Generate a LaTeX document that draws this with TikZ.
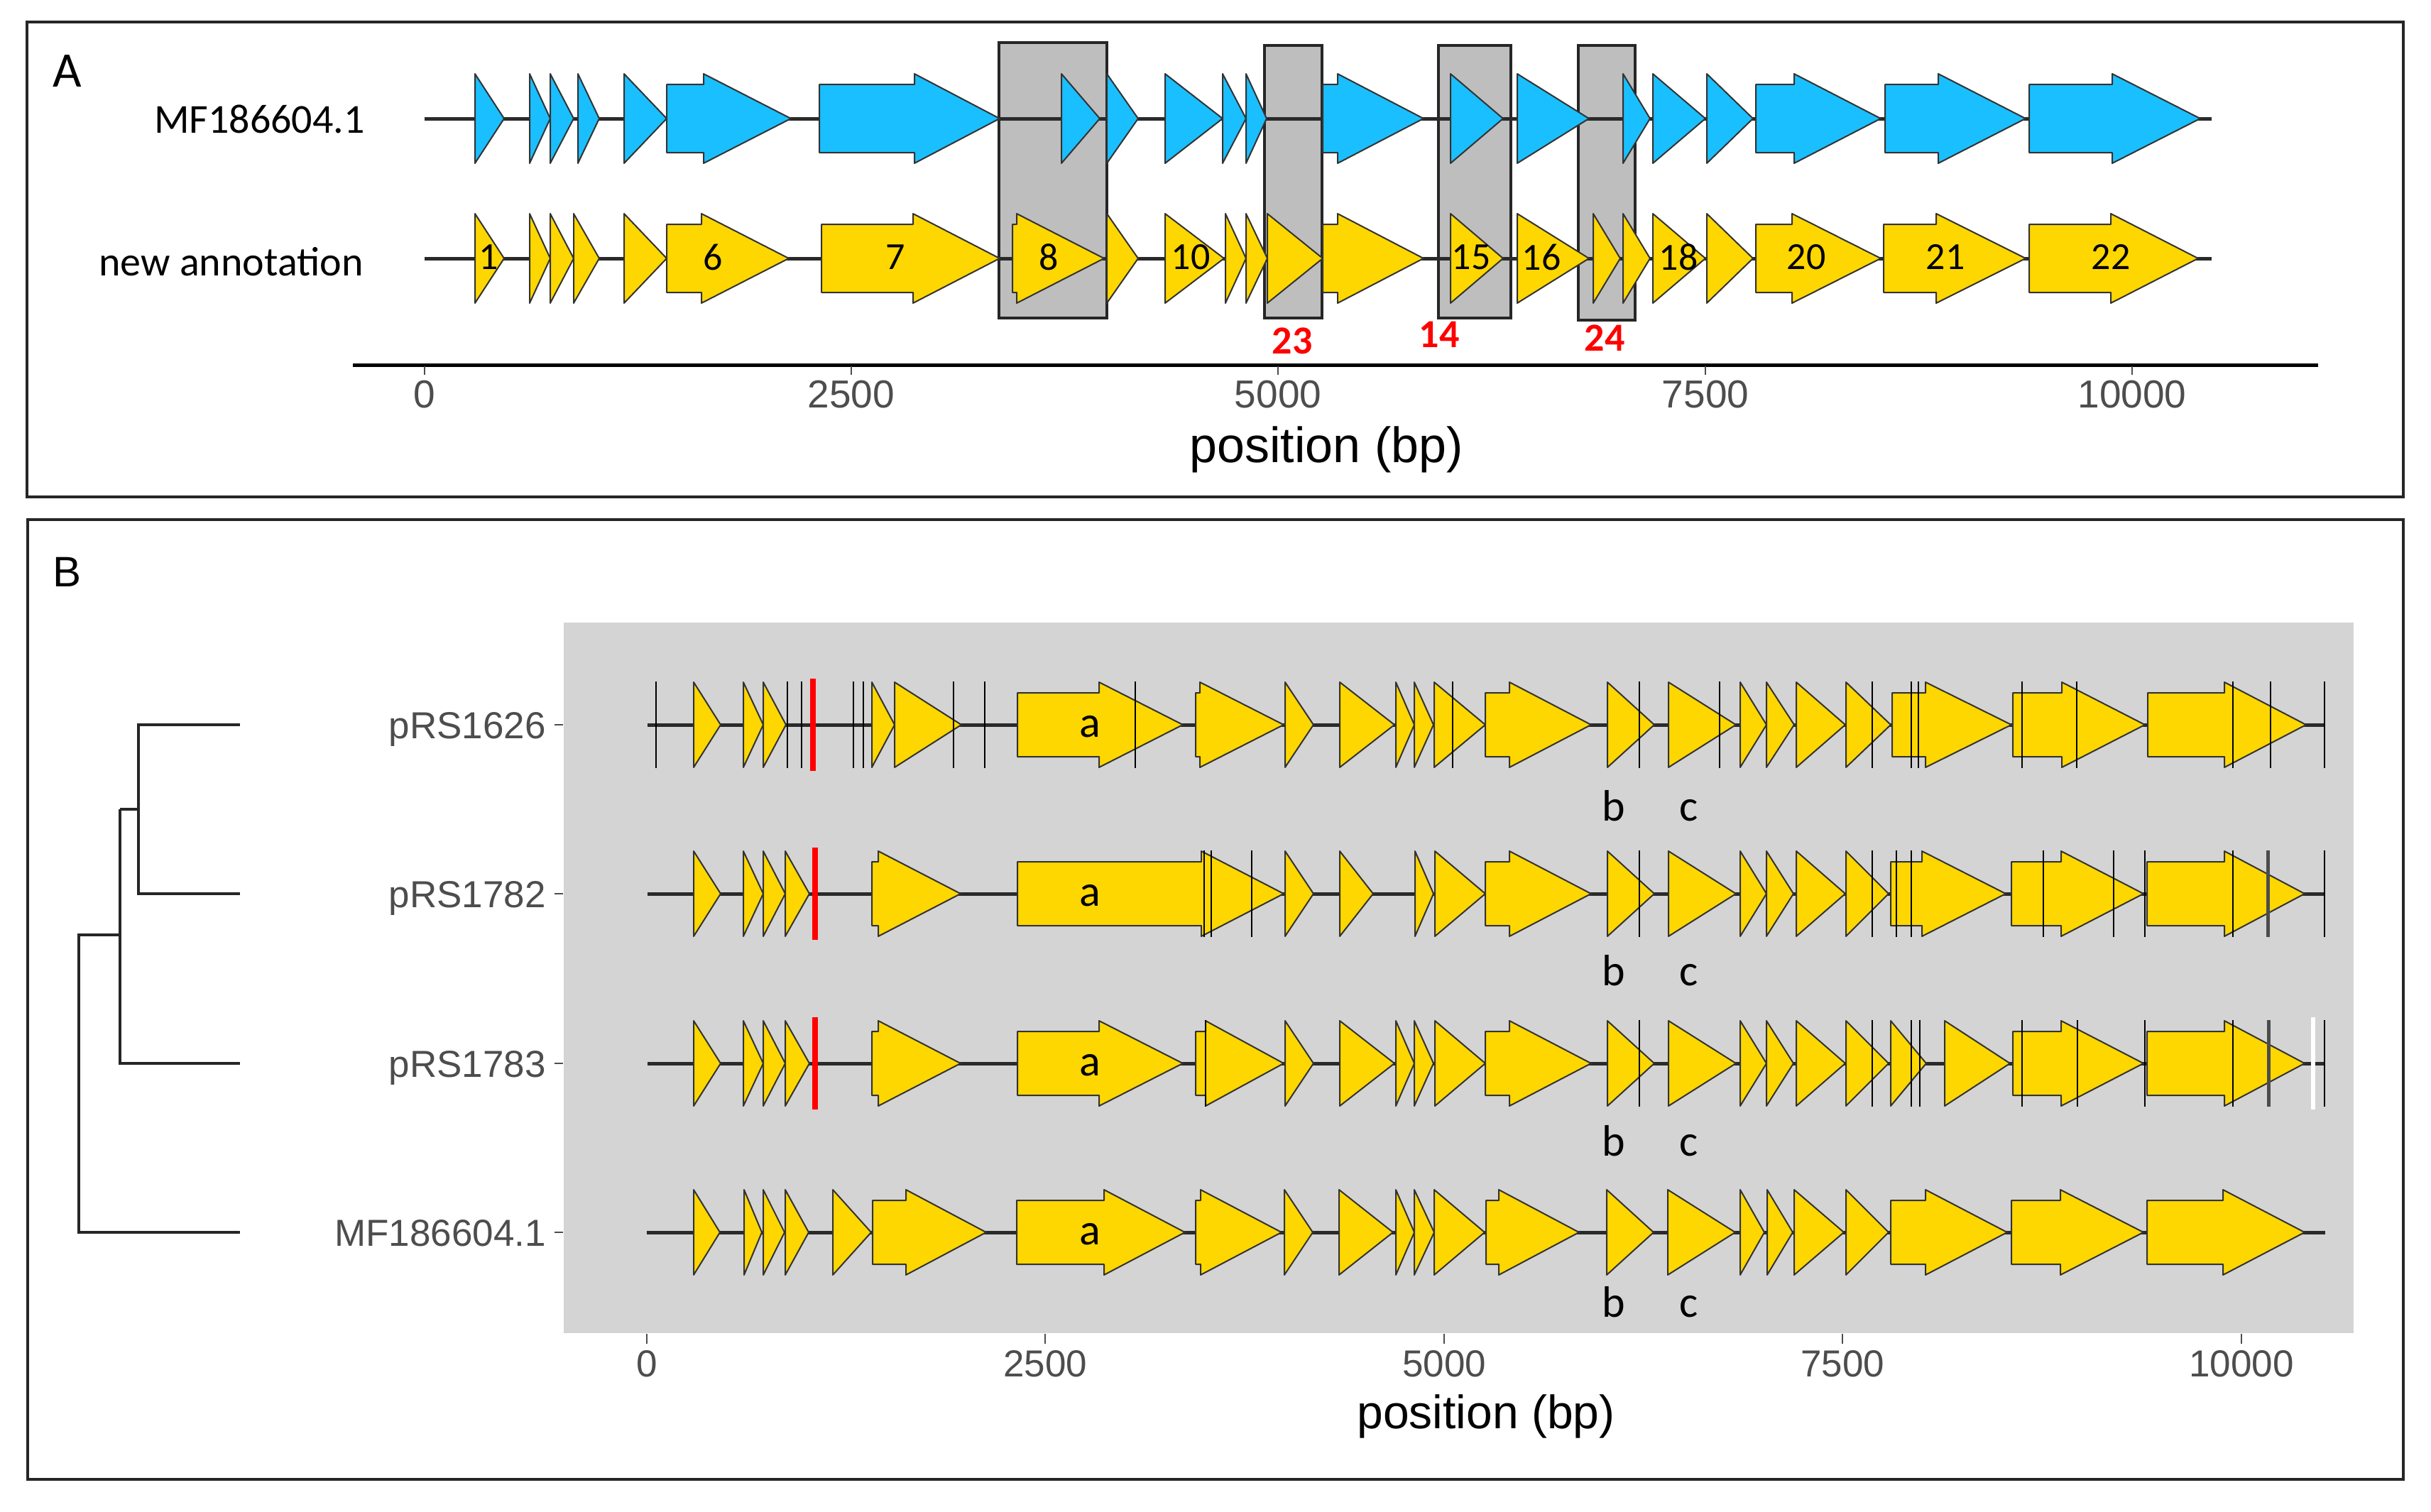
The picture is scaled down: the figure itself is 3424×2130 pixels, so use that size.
\documentclass[tikz,border=0pt]{standalone}
\usepackage{fontspec}
\newfontfamily\calib{Carlito}
\newfontfamily\arial{Liberation Sans}
\definecolor{genegold}{HTML}{FFD700}
\definecolor{geneblue}{HTML}{1ABFFF}
\definecolor{outl}{HTML}{333333}
\definecolor{boxgray}{HTML}{BEBEBE}
\definecolor{bggray}{HTML}{D4D4D4}
\definecolor{txtgray}{HTML}{4D4D4D}
\definecolor{rowblk}{HTML}{2A2A2A}
\newcommand\fs[1]{\fontsize{#1}{#1}\selectfont}
\newcommand\gtri[2]{\draw[gstyle,fill=\GC] (#1,\RY-\HH) -- (#2,\RY) -- (#1,\RY+\HH) -- cycle;}
\newcommand\garr[3]{\draw[gstyle,fill=\GC] (#1,\RY-\BH) -- (#2,\RY-\BH) -- (#2,\RY-\HH) -- (#3,\RY) -- (#2,\RY+\HH) -- (#2,\RY+\BH) -- (#1,\RY+\BH) -- cycle;}
\newcommand\vlines[1]{\foreach \xx in {#1} {\draw[vline] (\xx,\RY-61) -- (\xx,\RY+61);}}
\begin{document}
\begin{tikzpicture}[x=1pt,y=-1pt,
  gstyle/.style={draw=outl, line width=2pt, line join=round},
  rowline/.style={draw=rowblk, line width=5pt},
  vline/.style={draw=black, line width=2.5pt},
  redline/.style={draw=red, line width=8pt},
  hbox/.style={draw=black!85, fill=boxgray, line width=3.5pt},
  panelframe/.style={draw=black!85, line width=4pt},
  treeline/.style={draw=black!85, line width=4pt},
  tickmark/.style={draw=txtgray, line width=2.5pt},
  glab/.style={inner sep=0pt, font=\calib\fs{54}},
  redlab/.style={inner sep=0pt, text=red, font=\calib\bfseries\fs{56}},
  ticklab/.style={inner sep=0pt, text=txtgray, font=\arial\fs{54}},
  rowlabA/.style={inner sep=0pt, anchor=base east, font=\calib\fs{58}},
  rowlabB/.style={inner sep=0pt, anchor=base east, text=txtgray, font=\arial\fs{53}},
  abc/.style={inner sep=0pt, font=\calib\fs{62}}
]
\useasboundingbox (0,0) rectangle (3424,2130);
\fill[white] (0,0) rectangle (3424,2130);
% frames
\draw[panelframe] (38,31) rectangle (3385,700);
\draw[panelframe] (39,732) rectangle (3385,2084);

% ================= Panel A =================
\node[inner sep=0pt, anchor=base west, font=\calib\fs{70}] (labA) at (74,123) {A};
\draw[hbox] (1407,60) rectangle (1559,448);
\draw[hbox] (1781,64) rectangle (1862,448);
\draw[hbox] (2026,64) rectangle (2128,448);
\draw[hbox] (2223,64) rectangle (2303,451);
\draw[rowline] (598,167) -- (3115,167);
\draw[rowline] (598,364) -- (3115,364);
\def\HH{63}\def\BH{48}
% blue row
\def\RY{167}\def\GC{geneblue}
\gtri{669}{710}\gtri{746}{775}\gtri{775}{808}\gtri{814}{844}\gtri{879}{939}
\garr{939}{991}{1114}\garr{1154}{1288}{1408}
\gtri{1495}{1549}\gtri{1559}{1603}\gtri{1641}{1722}\gtri{1722}{1755}\gtri{1755}{1784}
\garr{1863}{1884}{2005}
\gtri{2043}{2117}\gtri{2137}{2238}\gtri{2286}{2324}\gtri{2328}{2402}\gtri{2404}{2469}
\garr{2473}{2527}{2649}\garr{2655}{2730}{2853}\garr{2858}{2975}{3099}
% yellow row
\def\RY{364}\def\GC{genegold}
\gtri{669}{710}\gtri{746}{775}\gtri{775}{808}\gtri{808}{844}\gtri{879}{939}
\garr{939}{988}{1111}\garr{1157}{1286}{1408}\garr{1426}{1432}{1555}
\gtri{1559}{1603}\gtri{1641}{1724}\gtri{1726}{1755}\gtri{1755}{1785}\gtri{1785}{1863}
\garr{1863}{1884}{2005}
\gtri{2043}{2117}\gtri{2137}{2238}\gtri{2244}{2282}\gtri{2286}{2324}\gtri{2328}{2402}\gtri{2404}{2469}
\garr{2473}{2524}{2649}\garr{2653}{2727}{2853}\garr{2858}{2973}{3096}
\foreach \x/\t [count=\i] in {688/1,1004/6,1261/7,1477/8,1677/10,2072/15,2171/16,2364/18,2544/20,2740/21,2973/22}
  \node[glab] (gnum\i) at (\x,362) {\t};
\node[redlab] (r23) at (1820,480) {23};
\node[redlab] (r14) at (2027,471) {14};
\node[redlab] (r24) at (2260,476) {24};
\node[rowlabA] (rowMF) at (514,187) {MF186604.1};
\node[rowlabA] (rowNew) at (512,388) {new annotation};
% axis A
\draw[draw=black, line width=5pt] (497,514) -- (3265,514);
\foreach \v/\x [count=\i] in {0/598,2500/1199,5000/1800,7500/2402,10000/3003}{
  \draw[tickmark] (\x,516) -- (\x,528);
  \node[ticklab, font=\arial\fs{55}] (ta\i) at (\x,556) {\v};
}
\node[inner sep=0pt, font=\arial\fs{70}] (posA) at (1868,633) {position (bp)};

% ================= Panel B =================
\node[inner sep=0pt, anchor=base west, font=\arial\fs{60}] (labB) at (74,826) {B};
\fill[bggray] (794,877) rectangle (3315,1878);
\def\HH{60}\def\BH{45}\def\GC{genegold}
% row 1 pRS1626
\def\RY{1021}
\draw[rowline] (912,\RY) -- (3274,\RY);
\gtri{977}{1015}\gtri{1047}{1075}\gtri{1075}{1107}\gtri{1228}{1260}\gtri{1260}{1354}
\garr{1433}{1548}{1666}\garr{1684}{1690}{1808}
\gtri{1810}{1850}\gtri{1887}{1964}\gtri{1966}{1992}\gtri{1992}{2019}\gtri{2020}{2092}
\garr{2092}{2126}{2241}
\gtri{2264}{2330}\gtri{2350}{2445}\gtri{2451}{2488}\gtri{2488}{2527}\gtri{2530}{2599}\gtri{2600}{2663}
\garr{2665}{2712}{2833}\garr{2835}{2904}{3021}\garr{3025}{3133}{3248}
\vlines{924,1109,1129,1202,1216,1343,1387,1599,2046,2309,2422,2637,2692,2702,2848,2925,3145,3198,3274}
\draw[redline] (1145,\RY-65) -- (1145,\RY+65);
% row 2 pRS1782
\def\RY{1259}
\draw[rowline] (912,\RY) -- (3274,\RY);
\gtri{977}{1015}\gtri{1047}{1075}\gtri{1075}{1106}\gtri{1106}{1140}
\garr{1228}{1237}{1353}\garr{1433}{1692}{1808}
\gtri{1810}{1850}\gtri{1887}{1934}\gtri{1993}{2019}\gtri{2021}{2092}
\garr{2092}{2126}{2241}
\gtri{2264}{2330}\gtri{2350}{2445}\gtri{2451}{2488}\gtri{2488}{2526}\gtri{2530}{2599}\gtri{2600}{2660}
\garr{2663}{2707}{2825}\garr{2833}{2903}{3019}\garr{3024}{3133}{3246}
\vlines{1696,1706,1763,2309,2637,2671,2692,2878,2977,3021,3145,3274}
\draw[vline, line width=5pt, draw=black!70] (3194,\RY-61) -- (3194,\RY+61);
\draw[redline] (1148,\RY-65) -- (1148,\RY+65);
% row 3 pRS1783
\def\RY{1498}
\draw[rowline] (912,\RY) -- (3274,\RY);
\gtri{977}{1015}\gtri{1047}{1075}\gtri{1075}{1106}\gtri{1106}{1140}
\garr{1228}{1237}{1353}\garr{1433}{1548}{1666}\garr{1684}{1698}{1808}
\gtri{1810}{1850}\gtri{1887}{1964}\gtri{1966}{1992}\gtri{1992}{2019}\gtri{2021}{2092}
\garr{2092}{2126}{2241}
\gtri{2264}{2330}\gtri{2350}{2445}\gtri{2451}{2488}\gtri{2488}{2526}\gtri{2530}{2599}\gtri{2600}{2660}
\gtri{2663}{2713}\gtri{2739}{2831}
\garr{2835}{2903}{3019}\garr{3024}{3133}{3246}
\vlines{1698,2309,2637,2692,2704,2848,2926,3021,3145,3274}
\draw[vline, line width=5pt, draw=black!70] (3195,\RY-61) -- (3195,\RY+61);
\draw[draw=white, line width=6pt] (3258,\RY-65) -- (3258,\RY+65);
\draw[redline] (1148,\RY-65) -- (1148,\RY+65);
% row 4 MF186604.1
\def\RY{1736}
\draw[rowline] (911,\RY) -- (3275,\RY);
\gtri{977}{1014}\gtri{1048}{1073}\gtri{1075}{1105}\gtri{1106}{1139}\gtri{1173}{1227}
\garr{1229}{1276}{1389}\garr{1432}{1555}{1669}\garr{1684}{1691}{1805}
\gtri{1809}{1849}\gtri{1886}{1962}\gtri{1966}{1992}\gtri{1992}{2020}\gtri{2020}{2091}
\garr{2093}{2111}{2224}
\gtri{2263}{2329}\gtri{2349}{2444}\gtri{2451}{2485}\gtri{2489}{2525}\gtri{2527}{2597}\gtri{2600}{2660}
\garr{2663}{2712}{2827}\garr{2833}{2902}{3019}\garr{3024}{3131}{3246}
% a b c labels
\foreach \y/\b [count=\i] in {1021/1156,1259/1388,1498/1628,1736/1855}{
  \node[abc] (la\i) at (1535,\y+3) {a};
  \node[abc, anchor=base] (lb\i) at (2273,\b) {b};
  \node[abc, anchor=base] (lc\i) at (2379,\b) {c};
}
% row labels and ticks
\foreach \y/\t [count=\i] in {1021/pRS1626,1259/pRS1782,1498/pRS1783,1736/MF186604.1}{
  \node[rowlabB] (rl\i) at (769,\y+19) {\t};
  \draw[tickmark] (781,\y) -- (793,\y);
}
% tree
\coordinate (t1) at (338,1021);
\coordinate (t2) at (338,1259);
\coordinate (t3) at (338,1498);
\coordinate (t4) at (338,1736);
\coordinate (n12) at (195,1140);
\coordinate (n123) at (169,1317);
\coordinate (root) at (111,1317);
\draw[treeline] (t1) -- (t1 -| n12) -- (t2 -| n12) -- (t2);
\draw[treeline] (n12) -- (n12 -| n123);
\draw[treeline] (n12 -| n123) -- (t3 -| n123) -- (t3);
\draw[treeline] (n123) -- (root) -- (t4 -| root) -- (t4);
% axis B
\foreach \v/\x [count=\i] in {0/911,2500/1472,5000/2034,7500/2595,10000/3157}{
  \draw[tickmark] (\x,1879) -- (\x,1893);
  \node[ticklab, font=\arial\fs{53}] (tb\i) at (\x,1921) {\v};
}
\node[inner sep=0pt, font=\arial\fs{66}] (posB) at (2093,1995) {position (bp)};
\end{tikzpicture}
\end{document}
